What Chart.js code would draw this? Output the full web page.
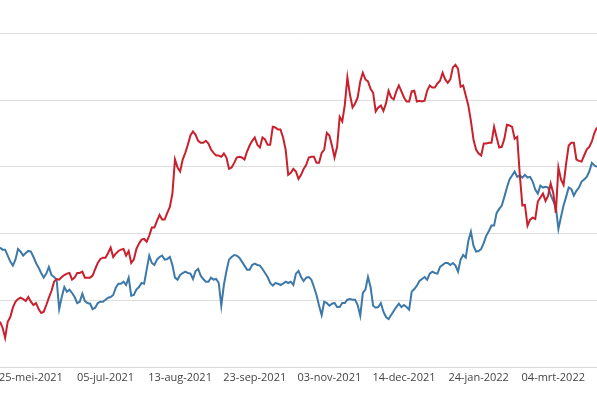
<!DOCTYPE html>
<html>
<head>
<meta charset="utf-8">
<script src="https://cdn.jsdelivr.net/npm/chart.js@4/dist/chart.umd.min.js"></script>
<style>
  html, body { margin: 0; padding: 0; background: #fff; overflow: hidden; }
  #grafiek { display: block; }
</style>
</head>
<body>
<canvas id="grafiek" width="597" height="398"></canvas>
<script>
// handelsdagen: elke 29e dag een label, beginnend bij index 12
const tickLabels = ['25-mei-2021', '05-jul-2021', '13-aug-2021', '23-sep-2021',
                    '03-nov-2021', '14-dec-2021', '24-jan-2022', '04-mrt-2022'];
const tickStart = 12;
const tickStep = 29;

const rood = [
  6.8, 5.9, 4.4, 6.8, 7.5, 8.9, 9.8, 10.2, 10.4, 10.2, 9.9, 10.5, 9.8, 9.3, 9.6, 8.7, 8.1, 8.3, 9.3, 10.4,
  11.4, 12.8, 13.2, 13.1, 13.5, 13.8, 14.0, 14.1, 13.1, 13.4, 14.1, 14.1, 14.3, 13.4, 13.4, 13.4, 13.7, 14.7, 15.6, 16.2,
  16.4, 16.4, 17.1, 17.9, 16.5, 17.0, 17.4, 17.6, 17.7, 16.7, 17.4, 15.6, 16.1, 17.7, 18.5, 19.1, 19.2, 18.8, 19.7, 20.9,
  20.9, 21.9, 22.8, 22.1, 22.1, 23.1, 24.0, 26.0, 31.1, 29.9, 29.3, 31.1, 32.1, 33.3, 34.7, 35.3, 34.8, 33.9, 33.6, 33.6,
  33.9, 33.5, 32.6, 32.1, 31.7, 31.7, 31.5, 32.0, 31.4, 29.7, 29.9, 30.6, 31.4, 31.5, 31.4, 31.1, 32.3, 33.2, 33.9, 34.4,
  33.3, 32.9, 34.4, 34.1, 33.3, 33.3, 36.0, 35.9, 35.6, 35.6, 34.4, 32.6, 28.8, 29.1, 29.7, 29.3, 28.2, 28.8, 29.7, 30.3,
  31.4, 31.5, 31.5, 30.6, 30.6, 32.1, 32.6, 35.1, 34.7, 33.2, 31.4, 33.0, 37.5, 36.8, 39.3, 43.4, 40.8, 38.9, 39.5, 40.4,
  42.8, 44.1, 43.1, 42.8, 41.7, 41.1, 38.3, 38.9, 39.2, 38.4, 39.5, 41.4, 40.4, 40.1, 41.3, 42.2, 41.3, 40.4, 39.8, 39.8,
  41.3, 41.4, 39.8, 39.9, 39.8, 39.9, 41.4, 42.2, 41.9, 41.9, 42.5, 42.9, 44.1, 43.1, 42.6, 43.1, 44.9, 45.3, 44.7, 42.0,
  42.2, 40.7, 39.2, 36.9, 34.1, 32.6, 32.0, 31.7, 33.5, 33.5, 33.6, 33.6, 36.0, 34.4, 32.9, 33.0, 34.2, 36.3, 36.2, 36.0,
  34.2, 34.5, 28.8, 24.2, 24.3, 21.2, 22.1, 22.4, 22.2, 24.8, 25.4, 26.0, 24.9, 25.7, 27.5, 26.1, 23.1, 29.9, 28.1, 27.3,
  30.5, 33.2, 33.6, 33.6, 31.1, 30.9, 30.8, 31.7, 32.6, 33.0, 33.8, 35.1, 35.9
];

const blauw = [
  17.9, 17.6, 17.6, 16.7, 15.8, 15.2, 16.1, 17.7, 17.3, 16.7, 17.1, 17.4, 17.3, 16.5, 15.6, 14.9, 14.1, 13.4, 14.0, 15.0,
  13.8, 13.5, 13.1, 8.7, 10.5, 12.0, 11.3, 11.6, 11.1, 10.5, 9.6, 9.8, 11.0, 9.9, 9.6, 9.5, 8.7, 8.9, 9.6, 9.8,
  9.8, 10.1, 10.4, 10.5, 10.8, 11.9, 12.5, 12.5, 12.8, 12.3, 13.4, 10.7, 10.8, 11.6, 12.0, 12.6, 12.5, 14.6, 16.7, 15.6,
  15.3, 16.1, 16.5, 16.7, 16.1, 16.2, 16.5, 15.3, 13.4, 13.1, 13.8, 14.1, 14.3, 14.1, 14.0, 13.2, 14.4, 14.7, 13.7, 13.2,
  12.8, 12.8, 13.4, 13.1, 13.2, 12.6, 9.2, 12.3, 14.4, 16.1, 16.5, 16.8, 16.7, 16.4, 15.8, 15.2, 14.6, 14.6, 15.3, 15.5,
  15.3, 15.2, 14.7, 14.1, 13.5, 12.6, 12.2, 12.6, 12.5, 12.3, 12.5, 12.8, 12.6, 12.8, 12.3, 14.0, 14.4, 13.5, 12.9, 13.4,
  13.5, 13.1, 12.0, 10.8, 9.2, 7.8, 9.8, 9.6, 9.2, 9.5, 9.6, 9.0, 9.0, 9.6, 9.6, 10.1, 10.2, 10.1, 10.1, 9.3,
  7.7, 11.1, 11.6, 13.5, 12.0, 9.2, 8.9, 9.0, 9.6, 8.3, 7.5, 7.2, 7.8, 8.4, 9.0, 9.5, 9.0, 9.3, 9.0, 8.6,
  11.3, 11.7, 12.2, 12.9, 13.2, 13.5, 13.1, 14.0, 14.3, 14.1, 14.0, 15.0, 15.3, 15.6, 15.6, 15.3, 15.6, 15.2, 14.3, 16.1,
  16.8, 16.4, 18.9, 20.3, 18.2, 17.3, 17.4, 17.7, 18.6, 19.7, 20.4, 21.2, 21.2, 23.1, 23.7, 24.2, 25.5, 26.9, 28.1, 28.7,
  29.3, 28.5, 28.7, 28.4, 28.8, 28.4, 28.5, 27.8, 26.6, 26.0, 27.2, 26.9, 27.0, 26.9, 25.8, 24.9, 24.0, 20.7, 22.5, 24.2,
  25.5, 26.9, 26.7, 25.7, 26.4, 26.9, 27.8, 28.1, 28.5, 29.3, 30.6, 30.2, 30.0
];

const categorieen = rood.map((_, i) => i);

const ctx = document.getElementById('grafiek').getContext('2d');

new Chart(ctx, {
  type: 'line',
  data: {
    labels: categorieen,
    datasets: [
      { data: rood, borderColor: '#c8202d', borderWidth: 2, pointRadius: 0, tension: 0, fill: false },
      { data: blauw, borderColor: '#3c79a9', borderWidth: 2, pointRadius: 0, tension: 0, fill: false }
    ]
  },
  options: {
    responsive: false,
    animation: false,
    devicePixelRatio: 1,
    layout: { padding: { left: 0, right: 0, top: 0, bottom: 10 } },
    plugins: { legend: { display: false }, tooltip: { enabled: false } },
    scales: {
      x: {
        offset: false,
        grid: { display: false, drawTicks: false },
        border: { display: true, color: '#d9d9d9', width: 1 },
        ticks: {
          autoSkip: false,
          maxRotation: 0,
          padding: 0,
          color: '#444',
          font: { family: 'Open Sans', size: 11, lineHeight: 1.9 },
          callback: (v, i) => {
            const k = (i - tickStart) / tickStep;
            return Number.isInteger(k) && k >= 0 && k < tickLabels.length ? tickLabels[k] : '';
          }
        }
      },
      y: {
        min: 0,
        max: 55,
        afterBuildTicks: s => { s.ticks = [0, 10, 20, 30, 40, 50].map(v => ({ value: v })); },
        grid: { color: '#dedede', drawTicks: false },
        border: { display: false },
        ticks: { display: false }
      }
    }
  }
});
</script>
</body>
</html>
